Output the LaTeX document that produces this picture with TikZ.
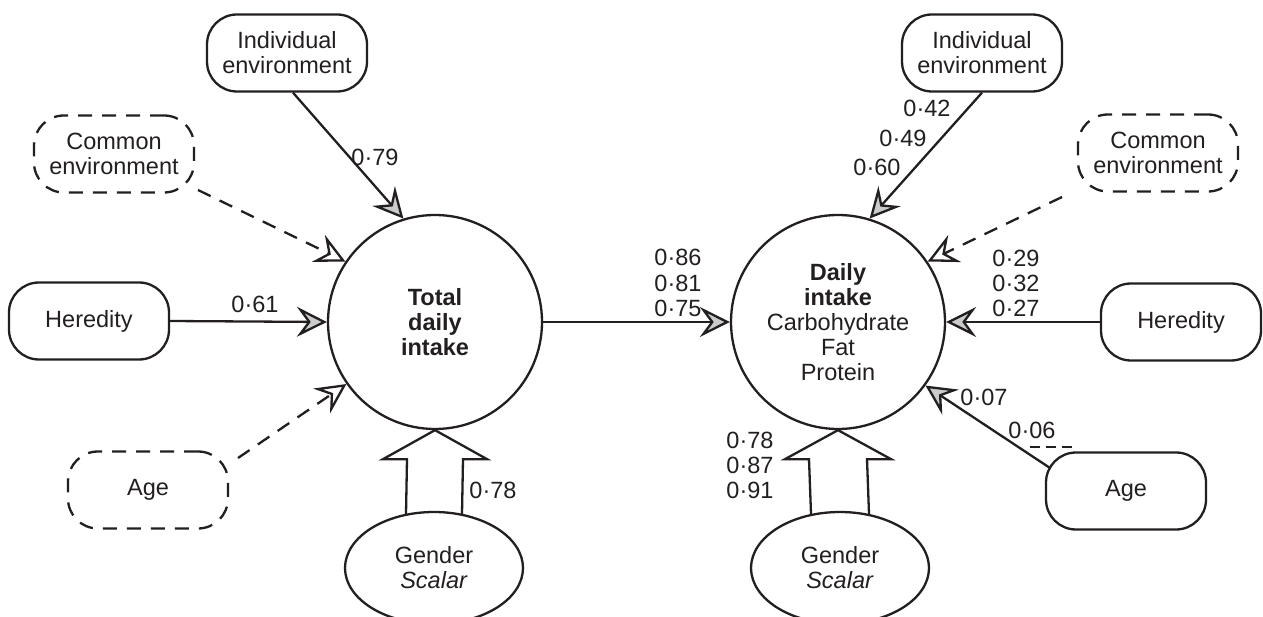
\documentclass[tikz,border=0pt]{standalone}
\usepackage{fontspec}
\setmainfont{Liberation Sans}
\usetikzlibrary{arrows.meta,shapes.geometric,calc}
\definecolor{ink}{HTML}{231F20}
\definecolor{tipgray}{HTML}{C9CBCD}
\begin{document}
\begin{tikzpicture}[x=1pt,y=-1pt,
  font=\fontsize{23.5}{25}\selectfont,
  box/.style={draw=ink, line width=2.3pt, rounded corners=30pt, minimum width=160pt, minimum height=77pt, align=center, inner sep=2pt, text=ink},
  dbox/.style={box, dash pattern=on 14pt off 10pt},
  latent/.style={circle, draw=ink, line width=2.3pt, minimum size=214pt, inner sep=0pt, align=center, text=ink},
  gend/.style={ellipse, draw=ink, line width=2.3pt, fill=white, minimum width=178pt, minimum height=112pt, inner sep=0pt, align=center, text=ink},
  conn/.style={draw=ink, line width=2.3pt, -{Stealth[length=30pt,width=30pt,inset=11pt,fill=tipgray]}},
  dconn/.style={draw=ink, line width=2.3pt, dash pattern=on 14pt off 10pt, -{Stealth[length=30pt,width=30pt,inset=11pt,fill=white]}},
  blockarrow/.style={draw=ink, line width=2.3pt, line join=miter},
  num/.style={text=ink, inner sep=0pt, align=center}
]
\useasboundingbox (0,0) rectangle (1263,617);
\fill[white] (0,0) rectangle (1263,617);

% latent variables
\node[latent] (Lc) at (435,322) {\textbf{Total}\\\textbf{daily}\\\textbf{intake}};
\node[latent] (Rc) at (838,322) {\textbf{Daily}\\\textbf{intake}\\Carbohydrate\\Fat\\Protein};

% left boxes
\node[box]  (LIe) at (287,53)  {Individual\\environment};
\node[dbox] (LCe) at (114,154) {Common\\environment};
\node[box]  (LH)  at (89,321)  {Heredity};
\node[dbox] (LA)  at (148,490) {Age};

% right boxes
\node[box]  (RIe) at (982,53)   {Individual\\environment};
\node[dbox] (RCe) at (1158,153) {Common\\environment};
\node[box]  (RH)  at (1181,322) {Heredity};
\node[box]  (RA)  at (1126,491) {Age};

% gender ellipses
\node[gend] (Lg) at (434,568) {Gender\\\textit{Scalar}};
\node[gend] (Rg) at (840,568) {Gender\\\textit{Scalar}};

% block arrows
\draw[blockarrow] ($(Lg.north)+(28,3)$) -- ($(Lc.south)+(28,29)$) -- ($(Lc.south)+(52,29)$)
  -- (Lc.south) -- ($(Lc.south)+(-52,29)$) -- ($(Lc.south)+(-28,29)$) -- ($(Lg.north)+(-28,3)$);
\draw[blockarrow] ($(Rg.north)+(29,3)$) -- ($(Rc.south)+(29,29)$) -- ($(Rc.south)+(53,29)$)
  -- (Rc.south) -- ($(Rc.south)+(-53,29)$) -- ($(Rc.south)+(-29,29)$) -- ($(Rg.north)+(-29,3)$);

% left connectors
\draw[conn]  ([xshift=6pt]LIe.south) -- (Lc.107.8);
\draw[dconn] ($(LCe.center)+(84,36)$) -- (Lc.146);
\draw[conn]  (LH.east) -- (Lc.west);
\draw[dconn] ($(LA.center)+(90,-32)$) -- (Lc.215);

% middle
\draw[conn] (Lc.east) -- (Rc.west);

% right connectors
\draw[conn]  (RIe.south) -- (Rc.73);
\draw[dconn] ($(RCe.center)+(-96,44)$) -- (Rc.34);
\draw[conn]  (RH.west) -- (Rc.east);
\draw[conn]  ($(RA.center)+(-76,-23)$) -- (Rc.324);

% short dashed mark
\coordinate (d1) at (1030,447);
\coordinate (d2) at (1072,447);
\draw[ink, line width=2.3pt, dash pattern=on 10pt off 6pt] (d1) -- (d2);

% labels
\node[num] (l79) at (375,157) {0·79};
\node[num] (l61) at (255,304) {0·61};
\node[num] (l78) at (493,490) {0·78};
\node[num] (lmid1) at (678,257) {0·86};
\node[num] (lmid2) at (678,283) {0·81};
\node[num] (lmid3) at (678,308) {0·75};
\node[num] (l42) at (927,108) {0·42};
\node[num] (l49) at (903,138) {0·49};
\node[num] (l60) at (877,167) {0·60};
\node[num] (l29) at (1016,258) {0·29};
\node[num] (l32) at (1016,283) {0·32};
\node[num] (l27) at (1016,308) {0·27};
\node[num] (l07) at (984,397) {0·07};
\node[num] (l06) at (1032,430) {0·06};
\node[num] (lg1) at (750,440) {0·78};
\node[num] (lg2) at (750,465) {0·87};
\node[num] (lg3) at (750,490) {0·91};
\end{tikzpicture}
\end{document}
